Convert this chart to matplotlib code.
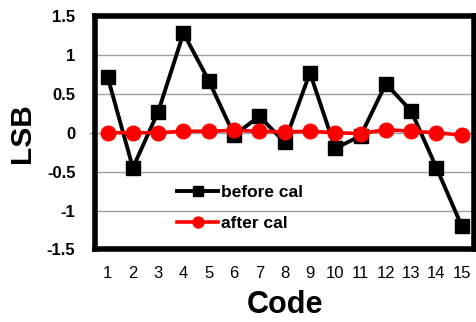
import matplotlib
matplotlib.use("Agg")
import matplotlib.pyplot as plt

plt.rcParams['font.family'] = ['Liberation Sans', 'DejaVu Sans']

codes = list(range(1, 16))
before_cal = [0.72, -0.45, 0.27, 1.28, 0.67, -0.03, 0.21, -0.12, 0.77, -0.20, -0.04, 0.63, 0.28, -0.45, -1.20]
after_cal = [0.00, 0.00, 0.00, 0.02, 0.02, 0.03, 0.02, 0.01, 0.02, 0.00, -0.01, 0.04, 0.02, 0.00, -0.03]
yticks = [-1.5, -1, -0.5, 0, 0.5, 1, 1.5]
ytick_labels = ["-1.5", "-1", "-0.5", "0", "0.5", "1", "1.5"]

fig = plt.figure(figsize=(4.77, 3.22), dpi=100)
ax = fig.add_axes([0.199, 0.2252, 0.7956, 0.725])

ax.set_xlim(0.5, 15.5)
ax.set_ylim(-1.5, 1.5)

for y in [-1, -0.5, 0.5, 1]:
    ax.axhline(y, color='#a0a0a0', lw=1.0, zorder=1)
# zero line runs a little past both spines
ax.axhline(0, xmin=-0.012, xmax=1.01, color='#a0a0a0', lw=1.0, zorder=1, clip_on=False)

ax.plot(codes, before_cal, color='black', lw=2.8, marker='s', markersize=10,
        markeredgewidth=1, markerfacecolor='black', markeredgecolor='black',
        label='before cal', zorder=3)
ax.plot(codes, after_cal, color='red', lw=2.6, marker='o', markersize=10.5,
        markeredgewidth=1, markerfacecolor='red', markeredgecolor='red',
        label='after cal', zorder=4)

ax.set_xticks(codes)
ax.set_xticklabels([str(c) for c in codes], fontsize=12)
ax.set_yticks(yticks)
ax.set_yticklabels(ytick_labels, fontsize=12, fontweight='bold')
ax.tick_params(axis='both', length=0)
ax.tick_params(axis='x', pad=12)
ax.tick_params(axis='y', pad=14)

for side in ['left', 'right', 'top', 'bottom']:
    ax.spines[side].set_linewidth(4.0)
    ax.spines[side].set_color('black')

ax.set_xlabel('Code', fontsize=22, fontweight='bold', labelpad=6.5)
ax.set_ylabel('LSB', fontsize=21.5, fontweight='bold', labelpad=8)

leg = ax.legend(loc='center left', bbox_to_anchor=(0.217, 0.178), frameon=False,
                prop={'weight': 'bold', 'size': 12.5}, handlelength=2.36,
                handletextpad=0.17, labelspacing=0.95, borderaxespad=0,
                borderpad=0, markerscale=0.75)

fig.savefig('out.png', dpi=100)
